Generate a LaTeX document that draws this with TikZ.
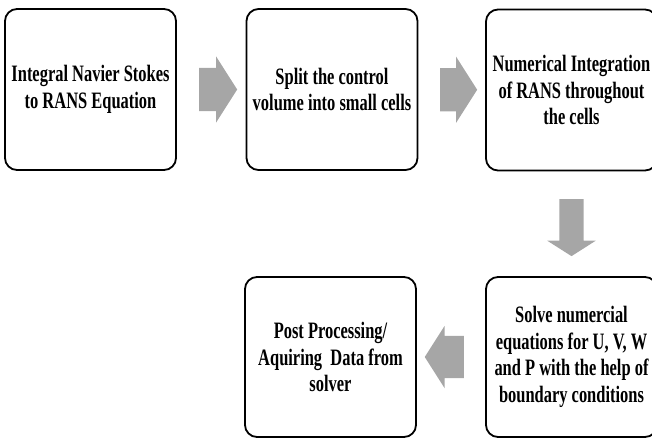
\documentclass[tikz,border=0pt]{standalone}
\usepackage{fontspec}
\setmainfont{Liberation Serif}[FakeStretch=0.70]
\usetikzlibrary{calc,shapes.arrows}

\definecolor{arrowgray}{RGB}{166,166,166}

\tikzset{
  stepbox/.style={draw, line width=1.8pt, rounded corners=12pt,
    minimum width=171pt, minimum height=161pt, align=center, inner sep=2pt,
    font=\bfseries\fontsize{23.5}{26.5}\selectfont},
  blockarrow/.style={single arrow, fill=arrowgray, draw=none, inner xsep=0pt,
    single arrow head indent=0pt, single arrow tip angle=115}
}

\begin{document}
\begin{tikzpicture}[x=1pt,y=-1pt]
          \useasboundingbox (0,0) rectangle (652,439);

          % process steps
          \node[stepbox] (integ) at (90.5,89.5) {Integral Navier Stokes\\to RANS Equation};
          \node[stepbox] (split) at (332,89.5) {Split the control\\volume into small cells};
          \node[stepbox] (numint) at (571.5,90) {Numerical Integration\\of RANS throughout\\the cells};
          \node[stepbox, minimum height=160pt] (solve) at (571.5,357) {Solve numercial\\equations for U, V, W\\and P with the help of\\boundary conditions};
          \node[stepbox, minimum height=160pt] (post) at (330.5,357) {Post Processing/\\Aquiring~ Data from\\solver};

          % block arrows between steps
          \node[blockarrow, minimum height=38pt, inner ysep=21.5pt,
            single arrow head extend=11.5pt] (a1) at ($(integ.east)!0.5!(split.west)$) {};
          \node[blockarrow, minimum height=37pt, inner ysep=21.5pt,
            single arrow head extend=11.5pt] (a2) at ($(split.east)!0.5!(numint.west)$) {};
          \node[blockarrow, minimum height=57pt, inner ysep=12pt,
            single arrow head extend=12pt, rotate=-90] (a3) at ($(numint.south)!0.5!(solve.north)$) {};
          \node[blockarrow, minimum height=39pt, inner ysep=21pt,
            single arrow head extend=10pt, rotate=180] (a4) at ($(solve.west)!0.5!(post.east)$) {};
\end{tikzpicture}
\end{document}
